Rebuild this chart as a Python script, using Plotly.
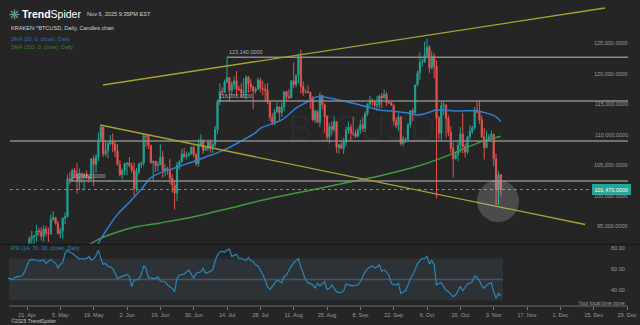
import plotly.graph_objects as go
import pandas as pd

W, H = 640, 325
FONT = "Liberation Sans, Arial, sans-serif"
BG = "#252525"
GREEN = "#20a393"
RED = "#e5514e"
K = 1000

dates = pd.date_range("2025-04-13", "2025-11-06", freq="D")

# Daily candles for KRAKEN:^BTCUSD, values in thousands of USD
opens = [
    # Apr 13-30
    85.3, 83.7, 84.5, 83.6, 84.0, 84.9, 84.5, 85.0, 85.1, 87.5, 93.4, 93.7, 93.9, 94.7, 94.6, 93.8, 95.0, 94.3,
    # May
    94.2, 96.5, 96.9, 95.9, 94.3, 94.7, 96.8, 97.0, 103.2, 102.9, 104.6, 104.1, 102.8, 104.1, 103.5, 103.7,
    103.5, 103.2, 106.5, 105.6, 106.8, 109.7, 111.7, 107.3, 107.8, 109.0, 109.4, 108.9, 107.8, 105.6, 103.9,
    # Jun
    104.6, 105.7, 105.8, 105.4, 104.7, 101.6, 104.4, 105.6, 105.8, 110.3, 110.2, 108.7, 105.9, 106.1, 105.4,
    105.6, 106.8, 104.6, 104.9, 104.6, 103.3, 102.2, 100.9, 105.5, 106.0, 107.3, 106.9, 107.1, 107.3, 108.4,
    # Jul
    107.2, 105.7, 108.8, 109.6, 107.9, 108.2, 109.2, 108.3, 108.9, 111.3, 115.9, 117.5, 117.4, 119.1, 119.8,
    117.7, 118.7, 119.3, 117.9, 117.9, 117.3, 117.4, 119.9, 118.8, 118.3, 117.6, 117.9, 119.4, 118.0, 117.9, 117.8,
    # Aug
    115.8, 113.3, 112.5, 114.2, 115.0, 114.1, 115.0, 117.5, 116.7, 116.5, 119.3, 118.7, 120.2, 123.3, 118.4,
    117.4, 117.5, 117.4, 116.3, 112.9, 114.3, 112.5, 116.9, 115.4, 113.5, 110.1, 111.8, 111.3, 112.6, 108.4, 108.8,
    # Sep
    108.2, 109.2, 111.2, 111.7, 110.7, 110.7, 110.2, 111.2, 112.1, 111.5, 113.9, 115.5, 116.1, 115.9, 115.3,
    115.4, 116.8, 116.5, 117.1, 115.7, 115.7, 115.3, 112.7, 112.0, 113.3, 109.0, 109.7, 109.7, 112.1, 114.4,
    # Oct
    114.1, 118.6, 120.6, 122.3, 122.4, 123.5, 124.8, 121.4, 123.3, 121.7, 113.2, 110.7, 115.2, 115.3, 113.1,
    110.8, 108.2, 106.5, 107.2, 108.7, 110.6, 108.5, 107.6, 110.1, 111.0, 111.6, 114.5, 114.1, 112.9, 110.1, 108.3,
    # Nov 1-6
    109.6, 110.1, 110.5, 106.5, 101.5, 103.9,
]
highs = [
    86.1, 85.8, 86.4, 85.5, 85.4, 85.1, 85.6, 85.3, 88.5, 93.8, 94.7, 94.0, 95.7, 95.2, 95.3, 95.6, 95.5, 95.2,
    97.4, 97.9, 96.9, 96.3, 95.2, 96.9, 97.7, 103.9, 104.3, 104.9, 105.0, 105.8, 104.9, 104.3, 104.2, 104.6,
    103.7, 106.6, 107.1, 107.3, 110.8, 111.9, 111.8, 109.5, 109.3, 110.4, 110.7, 109.3, 108.9, 106.3, 104.9,
    105.9, 105.9, 106.8, 105.9, 105.9, 105.0, 105.9, 106.0, 110.6, 110.4, 110.4, 108.8, 106.2, 106.2, 106.1,
    108.9, 107.8, 105.6, 105.2, 106.5, 104.0, 103.0, 106.0, 106.3, 108.1, 108.3, 107.7, 107.6, 108.5, 108.7,
    107.5, 109.8, 110.5, 109.7, 108.4, 109.7, 109.7, 109.2, 111.9, 116.2, 118.9, 118.2, 119.5, 123.14, 119.9,
    119.2, 120.0, 120.9, 118.5, 118.9, 119.7, 120.2, 120.1, 119.6, 118.5, 118.3, 119.8, 119.8, 119.3, 118.8, 118.9,
    116.1, 114.0, 114.7, 115.7, 115.1, 115.7, 117.6, 117.7, 117.9, 119.3, 122.3, 120.3, 123.7, 124.4, 119.2,
    117.9, 118.6, 117.5, 116.8, 114.6, 114.4, 117.4, 117.0, 115.6, 113.6, 112.4, 112.6, 113.5, 112.6, 108.9, 109.5,
    109.9, 111.8, 112.6, 112.2, 113.4, 111.3, 111.6, 112.9, 113.3, 114.3, 115.6, 116.8, 116.4, 116.0, 116.8,
    117.0, 117.3, 117.9, 117.5, 116.1, 115.9, 115.4, 113.3, 114.0, 113.5, 110.3, 110.0, 112.4, 114.5, 114.8,
    118.7, 121.0, 123.9, 122.9, 125.7, 126.2, 125.1, 124.2, 123.8, 122.6, 113.5, 115.8, 116.0, 115.5, 113.6,
    111.8, 109.2, 107.5, 109.4, 111.7, 114.0, 109.0, 110.3, 112.0, 111.9, 115.0, 116.1, 116.0, 113.6, 111.6, 111.1,
    110.6, 111.2, 110.7, 107.3, 104.5, 104.0,
]
lows = [
    83.1, 83.1, 83.6, 83.1, 83.8, 84.2, 84.3, 83.9, 85.1, 87.1, 91.9, 91.7, 92.9, 93.9, 93.1, 92.9, 93.8, 92.9,
    94.1, 96.4, 95.7, 94.1, 93.5, 93.4, 95.8, 96.9, 102.3, 102.8, 103.3, 100.8, 101.4, 102.6, 101.4, 103.1,
    102.6, 103.1, 102.0, 104.2, 106.1, 109.3, 106.8, 106.9, 106.6, 108.7, 107.6, 106.8, 105.4, 103.6, 103.1,
    103.9, 103.8, 105.1, 104.2, 100.4, 101.1, 103.9, 105.0, 105.3, 108.4, 108.1, 105.7, 102.7, 104.3, 104.5,
    105.4, 103.4, 103.6, 103.9, 102.4, 101.0, 98.2, 99.6, 104.7, 105.9, 106.6, 106.4, 106.8, 107.2, 106.8,
    105.3, 105.2, 108.6, 107.3, 107.8, 107.8, 107.5, 107.5, 108.4, 110.6, 115.3, 116.9, 117.3, 118.9, 115.8,
    116.9, 117.9, 116.8, 117.6, 116.5, 116.6, 116.2, 117.3, 117.5, 114.7, 117.2, 117.8, 117.4, 116.9, 115.8, 115.5,
    112.7, 112.0, 112.0, 114.1, 112.7, 113.4, 114.3, 115.9, 116.3, 116.5, 118.1, 118.2, 118.9, 117.2, 116.8,
    117.2, 117.2, 114.7, 112.7, 112.4, 112.4, 111.7, 114.6, 110.7, 109.3, 109.0, 110.4, 110.9, 107.5, 107.4, 108.1,
    107.3, 108.6, 110.6, 109.3, 110.2, 109.9, 110.1, 110.6, 110.9, 110.9, 113.5, 114.8, 115.2, 114.8, 114.4,
    114.8, 114.8, 116.4, 115.2, 115.5, 115.2, 112.0, 111.5, 111.1, 108.7, 108.6, 109.1, 109.3, 111.6, 112.7,
    113.9, 118.4, 119.4, 121.6, 122.2, 123.1, 120.6, 121.1, 119.7, 100.0, 109.7, 109.6, 113.6, 110.0, 110.2,
    107.5, 103.5, 106.4, 106.1, 107.5, 107.4, 106.7, 107.3, 109.7, 110.6, 111.3, 114.0, 112.2, 109.9, 106.4, 108.3,
    109.4, 109.6, 105.3, 98.9, 98.9, 100.3,
]
closes = [
    83.7, 84.5, 83.6, 84.0, 84.9, 84.5, 85.0, 85.1, 87.5, 93.4, 93.7, 93.9, 94.7, 94.6, 93.8, 95.0, 94.3, 94.2,
    96.5, 96.9, 95.9, 94.3, 94.7, 96.8, 97.0, 103.2, 102.9, 104.6, 104.1, 102.8, 104.1, 103.5, 103.7, 103.5,
    103.2, 106.5, 105.6, 106.8, 109.7, 111.7, 107.3, 107.8, 109.0, 109.4, 108.9, 107.8, 105.6, 103.9, 104.6,
    105.7, 105.8, 105.4, 104.7, 101.6, 104.4, 105.6, 105.8, 110.3, 110.2, 108.7, 105.9, 106.1, 105.4, 105.6,
    106.8, 104.6, 104.9, 104.6, 103.3, 102.2, 100.9, 105.5, 106.0, 107.3, 106.9, 107.1, 107.3, 108.4, 107.2,
    105.7, 108.8, 109.6, 107.9, 108.2, 109.2, 108.3, 108.9, 111.3, 115.9, 117.5, 117.4, 119.1, 119.8, 117.7,
    118.7, 119.3, 117.9, 117.9, 117.3, 117.4, 119.9, 118.8, 118.3, 117.6, 117.9, 119.4, 118.0, 117.9, 117.8, 115.8,
    113.3, 112.5, 114.2, 115.0, 114.1, 115.0, 117.5, 116.7, 116.5, 119.3, 118.7, 120.2, 123.3, 118.4, 117.4,
    117.5, 117.4, 116.3, 112.9, 114.3, 112.5, 116.9, 115.4, 113.5, 110.1, 111.8, 111.3, 112.6, 108.4, 108.8, 108.2,
    109.2, 111.2, 111.7, 110.7, 110.7, 110.2, 111.2, 112.1, 111.5, 113.9, 115.5, 116.1, 115.9, 115.3, 115.4,
    116.8, 116.5, 117.1, 115.7, 115.7, 115.3, 112.7, 112.0, 113.3, 109.0, 109.7, 109.7, 112.1, 114.4, 114.1,
    118.6, 120.6, 122.3, 122.4, 123.5, 124.8, 121.4, 123.3, 121.7, 113.2, 110.7, 115.2, 115.3, 113.1, 110.8,
    108.2, 106.5, 107.2, 108.7, 110.6, 108.5, 107.6, 110.1, 111.0, 111.6, 114.5, 114.1, 112.9, 110.1, 108.3, 109.6,
    110.1, 110.5, 106.5, 101.5, 103.9, 101.47,
]

# RSI (14) per day, same dates as the candles
rsi = [
    51, 51, 50, 52, 52.7, 53, 53.6, 57.5, 64, 68.6,
    69, 69, 68.6, 67.6, 68, 68.6, 65.4, 67, 69, 67,
    65.4, 61, 64.4, 66.3, 75, 78, 76, 75, 73, 71.7,
    69.5, 70, 69.5, 70, 71.7, 68.6, 69.5, 72.7, 78, 70,
    64.4, 65.4, 62.2, 62, 60.6, 55.9, 51.1, 52, 53, 54.3,
    54.9, 52.7, 43.2, 49.5, 49.5, 50.5, 54.9, 63.1, 60.6, 51.7,
    51, 51, 51, 52.7, 48.6, 48.5, 47.9, 44.8, 43, 41.6,
    38.4, 51, 54.3, 55, 55, 57.4, 59, 55, 51, 56,
    57, 57.4, 60.6, 56, 56.8, 58, 59, 67.6, 73.3, 76,
    77, 76, 78, 79, 72, 73, 74, 70, 70, 69,
    68, 71, 68, 67, 64, 63, 59, 55, 49.5, 43.2,
    40.6, 43, 46.4, 49.5, 48, 47, 52.7, 54, 59, 63,
    66, 68, 70, 62, 55, 49.5, 47, 45.7, 45, 41.6,
    46.4, 43.8, 45.7, 48, 40.6, 41.6, 44.8, 41.6, 38.4, 37.5,
    37.5, 39.3, 45.7, 44.8, 44.5, 44, 44.5, 44.8, 47.9, 52.7,
    57.4, 60, 62, 63, 61, 62, 64, 58, 59, 57,
    54.3, 46.4, 45, 44.8, 46.4, 36.8, 38.4, 39.3, 44.8, 51,
    54.3, 59, 65, 68, 70, 70, 72, 65, 68, 64,
    44.8, 46.4, 47, 43.2, 40, 38.4, 36, 33.6, 35.2, 40,
    43.2, 39.3, 43.2, 45.7, 46.5, 47.9, 53.3, 52, 49, 44,
    41.6, 44.8, 46, 47, 38.4, 32, 36.8, 34.3,
]

# Moving averages (thousands of USD)
sma50_dates = ["2025-05-20", "2025-05-24", "2025-05-29", "2025-06-03", "2025-06-08", "2025-06-12",
               "2025-06-16", "2025-06-22", "2025-06-28", "2025-07-05", "2025-07-12", "2025-07-19",
               "2025-07-26", "2025-07-28", "2025-08-06", "2025-08-12", "2025-08-17", "2025-08-21",
               "2025-08-27", "2025-09-05", "2025-09-12", "2025-09-16", "2025-09-22", "2025-09-28",
               "2025-10-02", "2025-10-06", "2025-10-10", "2025-10-19", "2025-10-27", "2025-10-31",
               "2025-11-04", "2025-11-06"]
sma50 = [92.0, 94.6, 97.4, 99.4, 101.5, 103.4, 104.2, 105.0, 105.8, 106.8, 107.8, 109.2,
         110.8, 111.5, 112.9, 114.8, 115.9, 116.7, 116.4, 115.6, 114.9, 114.5, 114.3, 114.0,
         113.7, 114.0, 114.5, 114.35, 114.35, 114.0, 113.4, 112.6]

sma200_dates = ["2025-05-17", "2025-05-22", "2025-05-29", "2025-06-04", "2025-06-16", "2025-07-01",
                "2025-07-16", "2025-08-01", "2025-08-16", "2025-09-01", "2025-09-16", "2025-10-03",
                "2025-10-17", "2025-10-20", "2025-10-28", "2025-10-31", "2025-11-06"]
sma200 = [92.4, 93.5, 94.5, 95.2, 96.0, 97.1, 98.5, 100.0, 101.2, 102.5, 103.7, 105.4,
          107.4, 107.9, 109.2, 109.6, 110.2]

# Horizontal price levels: value, start date, label shown
level_values = [123140, 116000, 109430, 102880]
level_starts = ["2025-07-14", "2025-07-10", "2025-04-13 21:00", "2025-05-09"]
level_labels = ["123,140.0000", "116,000.0000", "", "102,880.0000"]

# Trend channel lines: (start date, start price, end date, end price)
trend_upper = ("2025-05-22 22:00", 118607, "2025-12-19 17:00", 131230)
trend_lower = ("2025-05-21 17:00", 112050, "2025-12-11 10:00", 95740)

last_price = 101470
price_ticks = [95000, 100000, 105000, 110000, 115000, 120000, 125000]
rsi_ticks = [40, 60, 80]
time_ticks = pd.date_range("2025-04-21", "2025-12-29", freq="14D")

for arr in (opens, highs, lows, closes, rsi):
    assert len(arr) == len(dates), len(arr)

LINE_END = "2025-12-29 10:00"


def px(p):
    return p / W


def py(p):
    return 1 - p / H


fig = go.Figure()

fig.add_trace(go.Candlestick(
    x=dates,
    open=[v * K for v in opens], high=[v * K for v in highs],
    low=[v * K for v in lows], close=[v * K for v in closes],
    increasing=dict(line=dict(color=GREEN, width=1), fillcolor=GREEN),
    decreasing=dict(line=dict(color=RED, width=1), fillcolor=RED),
    whiskerwidth=0, hoverinfo="skip", xaxis="x", yaxis="y",
))
fig.add_trace(go.Scatter(
    x=pd.to_datetime(sma200_dates), y=[v * K for v in sma200], mode="lines",
    line=dict(color="#3f9a3a", width=1.5, shape="spline"), hoverinfo="skip", yaxis="y",
))
fig.add_trace(go.Scatter(
    x=pd.to_datetime(sma50_dates), y=[v * K for v in sma50], mode="lines",
    line=dict(color="#2f7fd6", width=1.5, shape="spline"), hoverinfo="skip", yaxis="y",
))
fig.add_trace(go.Scatter(
    x=dates, y=rsi, mode="lines", line=dict(color="#2b86ba", width=1.2),
    hoverinfo="skip", yaxis="y2",
))

shapes = []
ann = []

# watermark
ann.append(dict(x=px(362), y=py(128), xref="paper", yref="paper", text="BTCUSD", showarrow=False,
                font=dict(size=36, color="rgba(255,255,255,0.035)", family=FONT)))

# price levels
for val, start, lab in zip(level_values, level_starts, level_labels):
    shapes.append(dict(type="line", xref="x", yref="y", x0=start, x1=LINE_END, y0=val, y1=val,
                       line=dict(color="#8a8a8a", width=1.5), layer="above"))
    if lab:
        ann.append(dict(x=start, y=val, xref="x", yref="y", text=lab, showarrow=False,
                        xanchor="left", yanchor="bottom",
                        font=dict(size=5.5, color="#b0b0b0", family=FONT)))

# trend channel
for (x0, y0, x1, y1) in (trend_upper, trend_lower):
    shapes.append(dict(type="line", xref="x", yref="y", x0=x0, y0=y0, x1=x1, y1=y1,
                       line=dict(color="#a8a134", width=1.3), layer="above"))

# last price marker
shapes.append(dict(type="line", xref="x", yref="y", x0="2025-04-13 20:00", x1="2025-12-15 12:00",
                   y0=last_price, y1=last_price, line=dict(color="#8a8a8a", width=1, dash="dot"),
                   layer="above"))
ann.append(dict(x=px(631), y=last_price, xref="paper", yref="y", text=f"{last_price:,.4f}",
                showarrow=False, xanchor="right", bgcolor="#23a597", bordercolor="#23a597",
                borderpad=1.5, font=dict(size=5.5, color="#ffffff", family=FONT)))

# highlight around the latest candles
shapes.append(dict(type="circle", xref="x", yref="y", x0="2025-10-26 23:00", x1="2025-11-13 15:00",
                   y0=96150, y1=103030, fillcolor="rgba(205,212,220,0.22)",
                   line=dict(width=0), layer="above"))

# price axis labels
for v in price_ticks:
    ann.append(dict(x=px(630), y=v, xref="paper", yref="y", text=f"{v:,.4f}", showarrow=False,
                    xanchor="right", yshift=3, font=dict(size=5.5, color="#9c9c9c", family=FONT)))

# RSI panel
shapes.append(dict(type="rect", xref="x", yref="y2", x0="2025-04-13 10:00", x1="2025-11-06 22:00",
                   y0=30, y1=70, fillcolor="#2c3236", line=dict(width=0), layer="below"))
shapes.append(dict(type="line", xref="x", yref="y2", x0="2025-04-13 10:00", x1="2025-11-06 22:00",
                   y0=50, y1=50, line=dict(color="#4c545b", width=1.5), layer="below"))
for v in rsi_ticks:
    ann.append(dict(x=px(627), y=v, xref="paper", yref="y2", text=f"{v:.2f}", showarrow=False,
                    xanchor="right", font=dict(size=5.5, color="#9c9c9c", family=FONT)))

# panel separator and time axis line
shapes.append(dict(type="line", xref="paper", yref="paper", x0=0, x1=1, y0=py(244.5), y1=py(244.5),
                   line=dict(color="#1a1a1a", width=1.5)))
shapes.append(dict(type="line", xref="paper", yref="paper", x0=px(9), x1=px(628), y0=py(306), y1=py(306),
                   line=dict(color="#6e6e6e", width=1)))

# logo mark
cx, cy = 14.5, 14.5
for (dx, dy) in ((5, 0), (3.5, 3.5), (0, 5), (-3.5, 3.5)):
    shapes.append(dict(type="line", xref="paper", yref="paper",
                       x0=px(cx - dx), y0=py(cy - dy), x1=px(cx + dx), y1=py(cy + dy),
                       line=dict(color="#6f8c88", width=1.4)))
shapes.append(dict(type="circle", xref="paper", yref="paper", x0=px(cx - 1.8), x1=px(cx + 1.8),
                   y0=py(cy + 1.8), y1=py(cy - 1.8), fillcolor="#2aa396", line=dict(width=0)))


def text(x, y, s, size, color, anchor="left"):
    ann.append(dict(x=px(x), y=py(y), xref="paper", yref="paper", text=s, showarrow=False,
                    xanchor=anchor, yanchor="middle",
                    font=dict(size=size, color=color, family=FONT)))


text(20, 14.5, "<b>Trend</b>Spider", 10.5, "#ffffff")
text(85, 14.5, "Nov 6, 2025 9:35PM EST", 5.6, "#d0d0d0")
text(9, 28, "KRAKEN:^BTCUSD, Daily, Candles chart", 5.6, "#d2d2d2")
text(9, 39, "SMA (50, 0, close), Daily", 5.4, "#2d6db0")
text(9, 47, "SMA (200, 0, close), Daily", 5.4, "#3a7f36")
text(9, 248, "RSI (14, 70, 30, close), Daily", 5.4, "#2b80b8")
text(627, 302.5, "Your local time zone", 5.2, "#9c9c9c", anchor="right")
text(9, 320.5, "©2025 TrendSpider", 5.2, "#c8c8c8")

fig.update_layout(
    width=W, height=H, margin=dict(l=0, r=0, t=0, b=0),
    paper_bgcolor=BG, plot_bgcolor=BG,
    showlegend=False, hovermode=False, dragmode=False,
    font=dict(family=FONT, color="#9c9c9c"),
    shapes=shapes, annotations=ann,
    xaxis=dict(
        domain=[0, 1], anchor="y2", type="date",
        range=["2025-04-09 15:52", "2026-01-03 10:48"],
        tickmode="array", tickvals=list(time_ticks),
        ticktext=[f"{d.day}. {d.strftime('%b')}" for d in time_ticks],
        ticks="outside", ticklen=3, tickcolor="#777777",
        tickfont=dict(size=5.5, color="#9c9c9c", family=FONT),
        showgrid=False, zeroline=False, showline=False,
        rangeslider=dict(visible=False), fixedrange=True,
    ),
    yaxis=dict(
        domain=[py(244), 1], anchor="x", range=[92541, 132541],
        showticklabels=False, showgrid=False, zeroline=False, ticks="", fixedrange=True,
    ),
    yaxis2=dict(
        domain=[py(306), py(246)], anchor="x", range=[24.76, 81.9],
        showticklabels=False, showgrid=False, zeroline=False, ticks="", fixedrange=True,
    ),
)

fig.write_html("out.html")
